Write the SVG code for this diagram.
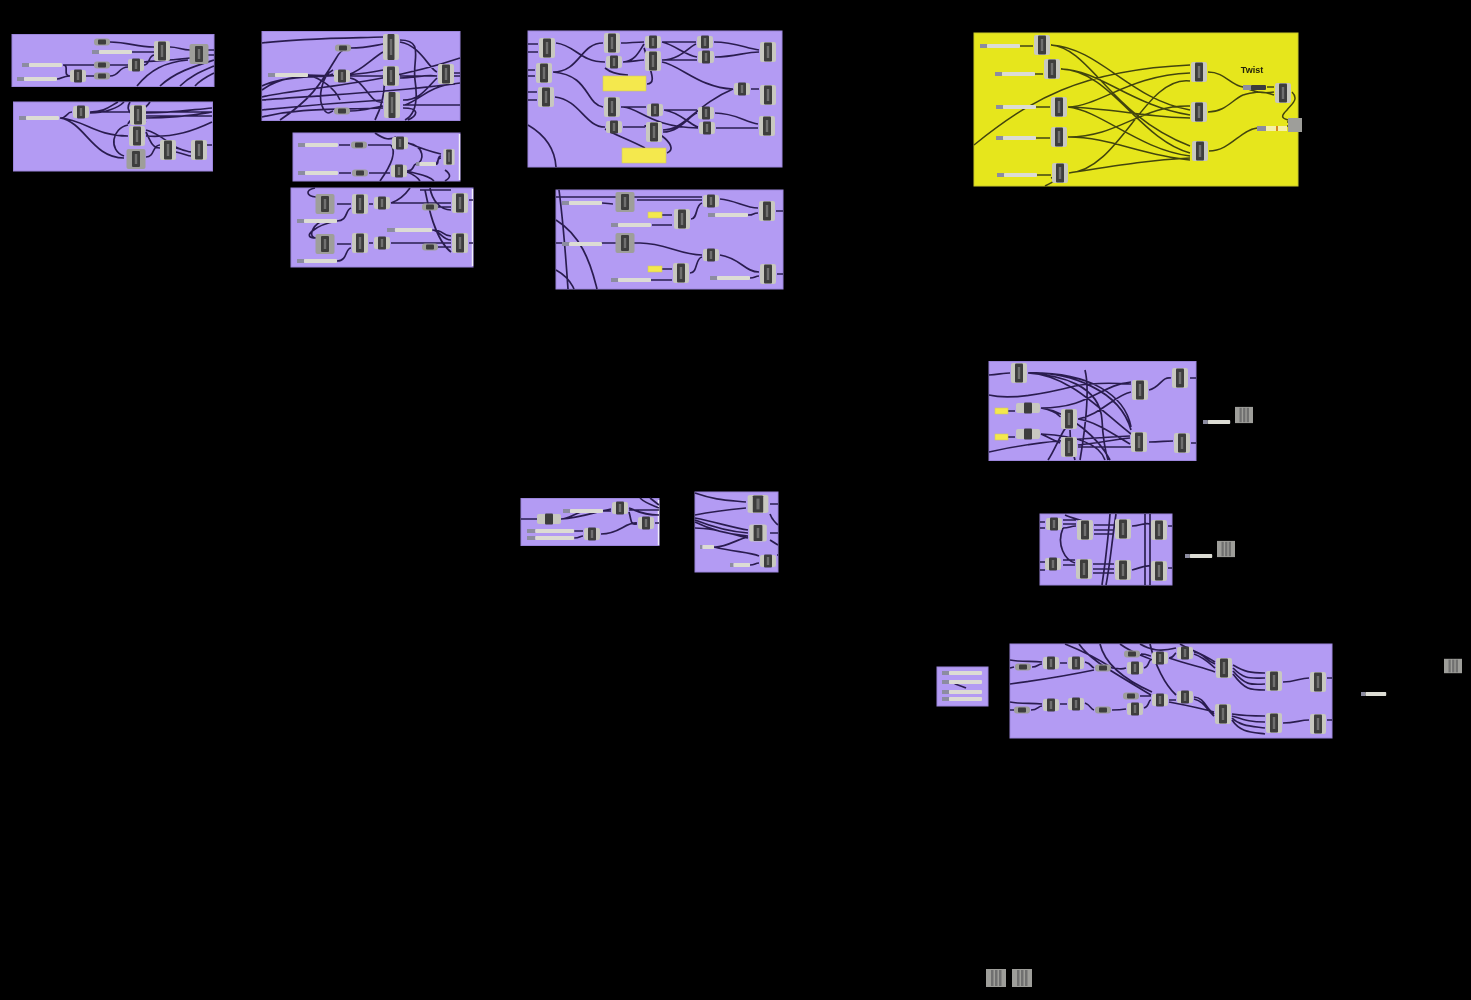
<svg xmlns="http://www.w3.org/2000/svg" width="1471" height="1000" viewBox="0 0 1471 1000">
<style>
.p{fill:#b39bf3;stroke:#9c86dc;stroke-width:1}
.py{fill:#e6e61c;stroke:#c9c92a;stroke-width:1}
.edge{stroke:#f2f0fa;stroke-width:1.4;fill:none}
#wires path{fill:none;stroke:#2b1e50;stroke-width:1.7}
#wires .o{stroke:#43450f;stroke-width:1.5}
.body{fill:#c8c8c0}
.gray{fill:#9e9e9a}
.core{fill:#3c3c3e}
.mid{fill:#707070}
.bar{fill:#dcdcd4}
.tag{fill:#8c8ca0}
.yb{fill:#f4e84e;stroke:#cfc860;stroke-width:.6}
text{font-family:"Liberation Sans",Arial,sans-serif;font-size:9px;font-weight:bold;fill:#23230a}
</style>
<defs>
<filter id="soft" filterUnits="userSpaceOnUse" x="0" y="0" width="1471" height="1000"><feGaussianBlur stdDeviation="0.75"/></filter>
<g id="c"><rect class="body" x="-8" y="-6" width="16" height="12" rx="2"/><rect class="core" x="-4" y="-6.500" width="8" height="13" rx="1"/><rect class="mid" x="-1.200" y="-4" width="2.400" height="8"/></g>
<g id="t"><rect class="body" x="-8" y="-10" width="16" height="20" rx="2"/><rect class="core" x="-4" y="-9.500" width="8" height="19" rx="1"/><rect class="mid" x="-1.200" y="-6" width="2.400" height="12"/></g>
<g id="h"><rect class="body" x="-8" y="-13" width="16" height="26" rx="2"/><rect class="core" x="-3.500" y="-13" width="7" height="26" rx="1"/><rect class="mid" x="-1.200" y="-8" width="2.400" height="16"/></g>
<g id="w"><rect class="gray" x="-9.500" y="-10" width="19" height="20" rx="2"/><rect class="core" x="-4" y="-8" width="8" height="16" rx="1"/><rect class="mid" x="-1.200" y="-5" width="2.400" height="10"/></g>
<g id="f"><rect class="gray" x="-8" y="-3.500" width="16" height="7" rx="3"/><rect class="core" x="-4" y="-2.500" width="8" height="5" rx="1"/></g>
<g id="v"><rect class="body" x="-12" y="-5" width="24" height="10" rx="2"/><rect class="core" x="-4" y="-5.500" width="8" height="11" rx="1"/></g>
<g id="e"><rect class="gray" x="-10" y="-9" width="20" height="18"/><rect class="mid" x="-5" y="-8" width="2.500" height="16"/><rect class="mid" x="-1" y="-8" width="2.500" height="16"/><rect class="mid" x="3" y="-8" width="2.500" height="16"/></g>
<g id="s"><rect class="tag" x="0" y="-2" width="7" height="4"/><rect class="bar" x="7" y="-2" width="33" height="4" rx="1"/></g>
</defs>
<rect width="1471" height="1000" fill="#000"/>
<g filter="url(#soft)">
<g id="panels">
<rect class="p" x="12" y="34.500" width="202" height="52"/>
<rect class="p" x="13.500" y="102" width="199" height="69"/>
<rect class="p" x="262" y="31.500" width="198" height="89"/>
<rect class="p" x="293" y="133" width="167" height="48"/>
<rect class="p" x="291" y="188" width="182" height="79"/>
<rect class="p" x="528" y="31" width="254" height="136"/>
<rect class="p" x="556" y="190" width="227" height="99"/>
<rect class="py" x="974" y="33" width="324" height="153"/>
<rect class="p" x="989" y="361.500" width="207" height="99"/>
<rect class="p" x="1040" y="514" width="132" height="71"/>
<rect class="p" x="1010" y="644" width="322" height="94"/>
<rect class="p" x="937" y="667" width="51" height="39"/>
<rect class="p" x="521" y="498.500" width="138" height="47"/>
<rect class="p" x="695" y="492" width="83" height="80"/>
<path class="edge" d="M459.500 134V180M472.500 189V266M658.500 500V545"/>
</g>
<g id="wires">
<path d="M110 42C130 42 135 47 154 47M132 52H154M63 65H94M110 65H128M57 79C62 79 62 76 70 76M63 65C70 65 62 76 70 76M86 76H95M110 76C120 76 118 67 128 67M144 65C150 65 148 56 154 55M170 47C178 47 182 50 190 50M144 62C165 60 175 60 190 58M137 86C150 70 165 62 188 60M160 86C175 72 195 66 214 60M180 86C190 76 200 72 214 66M195 86C200 80 208 76 214 73M207 50H214M208 55H214"/>
<path d="M60 118C68 118 66 112 72 112M60 118C85 120 95 136 128 136M60 118C85 122 92 158 124 158M90 112C105 112 110 106 118 102M90 112H212M90 113C105 113 118 108 124 102M146 113C170 113 190 110 212 108M146 116H212M146 118C180 118 200 114 212 112M128 125C112 128 108 150 124 156M146 136C175 138 195 130 212 122M146 130C165 135 172 150 191 152M146 132C150 140 152 148 160 148M146 157C155 157 152 145 160 145M176 148C185 150 188 152 191 152M176 152C185 154 188 156 191 156M207 145H212M130 102C125 110 130 115 146 122M150 102C145 110 130 118 128 124"/>
<path d="M262 43C300 38 350 38 383 37M308 75C320 75 325 76 333 76M350 48C365 48 372 46 383 44M262 90C290 70 320 80 333 74M262 86C290 72 340 80 383 70M262 97C300 88 380 85 460 58M262 100C320 95 400 92 460 83M262 110C300 106 350 102 383 100M262 117C300 108 330 110 383 108M280 120C310 100 320 85 335 60C340 50 345 48 350 48M350 111C365 111 370 108 383 106M350 76H383M350 78C365 80 370 105 383 102M350 74C362 70 370 60 383 52M333 70C322 75 316 100 325 111C328 115 330 112 333 111M308 75C320 78 335 88 340 100M400 40C425 40 412 60 415 80C418 100 415 115 405 120M400 76H437M400 78C415 78 425 74 437 76M400 42C420 45 430 70 437 72M403 100C420 100 425 90 437 78M403 105H460M403 108C420 108 418 115 408 120M454 73H460M454 76H460M405 105C420 100 430 85 455 84M375 120C385 100 385 85 384 75"/>
<path d="M339 145H350M339 173H351M368 145H391M369 173H390M375 133C385 140 390 140 396 137M408 143C425 146 425 162 416 164M408 143C420 148 432 152 441 154M407 171C415 171 412 165 416 164M435 164C440 162 436 158 441 158M435 164C440 166 436 156 441 156M380 181C395 160 395 150 391 145M407 171C420 175 428 175 434 181M407 172C415 175 418 178 420 181M445 170C452 175 450 178 445 181"/>
<path d="M337 204H351M337 221C348 221 345 210 351 208M316 197C306 196 305 190 315 188M369 204H373M391 203H451M391 203C400 200 405 195 410 188M438 207H451M316 238C300 238 315 225 337 221M337 244H351M337 261C348 261 345 248 351 248M391 243H451M438 247H451M369 243H373M316 238C308 237 312 227 320 222M432 230C445 230 440 235 451 236M425 190C428 205 435 240 451 252M430 188C432 200 440 210 451 210M432 230C440 230 442 240 451 240M420 190H451M469 200H473M469 243H473"/>
<path d="M528 44H538M528 52H538M528 70H535M528 76H535M528 92H537M528 100H537M556 43C575 45 580 62 605 62M553 72C580 72 580 43 603 43M553 72C590 75 585 104 603 107M555 97C580 100 585 127 605 127M621 43C630 43 635 42 644 42M623 62C635 62 640 50 644 44M623 62C632 62 638 60 644 60M605 68C610 72 615 74 628 75M662 42H696M662 60C680 60 690 46 696 44M662 42C675 45 685 55 697 57M662 60H697M714 42C735 42 745 48 759 50M715 57C735 57 745 52 759 52M662 62C680 65 700 88 733 89M751 89H759M647 84C655 84 652 75 650 68C647 58 645 50 644 48M621 107H646M623 127H645M623 107C640 108 650 127 698 128M664 110H697M664 110C680 112 690 125 698 127M663 132C680 132 690 115 697 113M663 130C685 130 695 105 733 89M715 113C735 113 745 122 758 124M716 128C735 128 745 128 758 128M605 129C615 135 630 140 645 148M667 153C675 150 670 142 662 136C658 133 645 128 645 125M528 125C545 135 555 150 556 167"/>
<path d="M556 197H702M602 203C608 203 608 204 613 204M556 243H613M637 200H702M720 199C735 200 745 208 758 208M748 215C755 215 752 213 758 213M662 215H672M652 225H672M691 219C698 219 695 205 702 203M556 243H640C665 243 680 255 702 255M720 255C740 258 745 272 759 272M750 278C755 278 755 276 759 276M662 269H672M651 280H672M690 273C698 273 695 258 702 257M776 211H783M777 274H783M559 190C563 220 566 260 568 289M556 220C580 235 590 260 597 289M556 270C565 275 570 280 574 289"/>
<path class="o" d="M1020 46H1033M1035 74H1043M1036 107H1050M1036 138H1050M1037 175H1051M1051 45C1090 48 1110 115 1190 146M1051 45C1100 48 1130 100 1190 110M1061 69C1100 70 1130 105 1190 115M1061 69C1110 70 1140 140 1190 153M1068 107C1100 106 1130 75 1190 73M1068 107C1110 108 1150 118 1190 118M1068 107C1100 110 1140 150 1190 156M1068 137C1120 137 1140 105 1190 106M1068 137C1110 137 1140 155 1190 160M1069 173C1120 170 1145 75 1190 81M1069 173C1120 165 1150 160 1190 158M974 145C1030 100 1080 70 1190 65M1045 186C1065 176 1070 172 1051 178M1208 72C1225 72 1230 85 1243 87M1208 112C1225 112 1232 100 1243 95C1255 92 1260 90 1274 95M1209 151C1230 151 1240 130 1257 128M1243 87C1255 92 1262 94 1274 92M1267 87H1274M1287 126H1288M1292 92C1300 100 1290 105 1287 110C1282 115 1280 118 1288 120M1287 122H1290"/>
<path d="M989 375C1000 374 1005 373 1010 373M1008 411H1015M1008 437H1015M1028 373C1070 375 1100 410 1131 434M1028 373C1060 375 1100 385 1102 420C1103 440 1105 450 1108 460M1028 373C1070 372 1120 390 1131 430M1028 373C1090 372 1125 395 1131 427M1041 408C1090 408 1100 385 1131 382M1041 408C1060 412 1060 418 1060 416M1041 408C1070 412 1100 440 1110 460M1041 434C1050 438 1055 441 1060 443M1041 434C1080 436 1100 445 1105 460M1078 419C1100 415 1115 395 1131 392M1078 447H1131M1078 445C1100 443 1110 440 1130 438M1078 419C1095 421 1115 435 1130 444M989 395C1010 400 1040 395 1075 386C1095 382 1115 383 1131 384M989 452C1020 445 1050 440 1130 436M1048 460C1055 450 1062 430 1068 425M1075 460C1072 450 1070 440 1070 430M1085 370C1090 390 1085 430 1080 460M1149 390C1160 388 1162 376 1171 378M1149 442C1160 442 1165 441 1173 441M1190 378H1196M1191 443H1196"/>
<path d="M1040 522H1045M1040 528H1045M1040 562H1045M1040 570H1045M1063 520H1076M1063 524H1076M1063 528C1070 528 1070 526 1076 526M1094 525H1114M1094 530H1114M1094 534H1114M1063 528C1056 545 1065 560 1075 563M1063 560H1075M1063 565H1075M1093 564H1114M1093 569H1114M1093 573H1114M1132 526C1140 526 1145 522 1150 524M1132 570C1140 568 1145 565 1150 566M1168 526H1172M1168 568H1172M1110 514C1108 540 1105 565 1102 585M1116 514C1112 540 1110 565 1106 585M1145 514V585M1150 514V585M1065 515C1072 518 1080 520 1085 522"/>
<path d="M1010 660C1020 662 1030 661 1042 662M1010 668L1014 667M1032 667C1038 667 1038 664 1042 664M1060 663H1067M1085 662C1092 664 1090 666 1094 668M1010 684C1040 680 1070 675 1094 670M1112 668C1118 668 1120 670 1126 668M1144 668C1150 666 1148 660 1151 660M1141 654C1148 654 1148 656 1151 656M1112 668C1100 660 1085 652 1065 644M1169 658C1174 658 1174 654 1176 653M1169 658C1190 665 1205 668 1215 672M1194 652C1205 654 1205 660 1215 664M1194 654C1205 658 1210 664 1215 668M1233 665C1245 672 1250 673 1265 673M1233 668C1245 680 1250 678 1265 678M1233 671C1245 685 1250 685 1265 684M1233 674C1245 690 1250 690 1265 690M1283 682C1295 682 1300 678 1309 678M1327 678H1332M1140 644C1150 650 1160 652 1176 648M1120 644C1135 655 1150 658 1152 660M1180 644C1190 650 1200 652 1215 662M1100 644C1105 665 1125 680 1152 692M1079 644C1090 660 1110 670 1151 695M1150 644C1155 665 1165 685 1176 695M1010 702C1020 704 1030 703 1042 704M1010 710H1014M1031 710C1038 710 1038 706 1042 706M1060 704H1067M1085 703C1092 706 1090 709 1094 710M1112 710C1118 710 1120 710 1126 709M1144 708C1150 706 1148 700 1151 700M1140 696H1151M1169 700H1176M1169 702C1190 706 1200 708 1214 712M1194 697C1205 698 1205 708 1214 714M1194 699C1205 702 1205 708 1214 716M1232 714C1245 716 1250 716 1265 716M1232 716C1245 720 1250 722 1265 722M1232 718C1240 726 1250 726 1265 728M1232 720C1240 732 1250 732 1265 734M1283 723C1295 723 1300 720 1309 720M1327 720H1332"/>
<path d="M952 682C958 686 962 686 966 688"/>
<path d="M521 519H537M561 519C570 519 575 512 587 511M603 511H611M561 519C580 518 595 512 611 509M629 508C636 510 640 515 659 515M629 510H659M629 512C632 522 630 525 637 524M574 531H583M574 538C580 538 580 536 583 536M601 534C620 534 625 522 637 523M655 523H659M640 498C645 503 652 505 659 508M650 498L659 505"/>
<path d="M695 493C715 500 725 500 746 502M695 515C710 512 725 510 746 508M695 518C715 522 735 528 748 530M695 520C715 528 735 532 748 533M695 522C715 532 735 535 748 536M695 528C715 528 735 535 748 538M714 547C725 548 740 538 748 537M714 547C735 552 750 552 759 556M750 565C755 565 755 563 759 563M770 504H778M770 514C772 520 775 522 778 525M770 533H778M770 540L778 545M777 555H778"/>
</g>
<g id="n1" transform="translate(102,42)"><use href="#f"/></g>
<g id="n2" transform="translate(92,52)"><use href="#s"/></g>
<g id="n3" transform="translate(162,51)"><use href="#t"/></g>
<g id="n4" transform="translate(199,54)"><use href="#w"/></g>
<g id="n5" transform="translate(22,65)"><use href="#s"/></g>
<g id="n6" transform="translate(17,79)"><use href="#s"/></g>
<g id="n7" transform="translate(102,65)"><use href="#f"/></g>
<g id="n8" transform="translate(102,76)"><use href="#f"/></g>
<g id="n9" transform="translate(78,76)"><use href="#c"/></g>
<g id="n10" transform="translate(136,65)"><use href="#c"/></g>
<g id="n11" transform="translate(19,118)"><use href="#s"/></g>
<g id="n12" transform="translate(81,112)"><use href="#c"/></g>
<g id="n13" transform="translate(138,115)"><use href="#t"/></g>
<g id="n14" transform="translate(137,136)"><use href="#t"/></g>
<g id="n15" transform="translate(136,159)"><use href="#w"/></g>
<g id="n16" transform="translate(168,150)"><use href="#t"/></g>
<g id="n17" transform="translate(199,150)"><use href="#t"/></g>
<g id="n18" transform="translate(268,75)"><use href="#s"/></g>
<g id="n19" transform="translate(343,48)"><use href="#f"/></g>
<g id="n20" transform="translate(342,76)"><use href="#c"/></g>
<g id="n21" transform="translate(342,111)"><use href="#f"/></g>
<g id="n22" transform="translate(391,47)"><use href="#h"/></g>
<g id="n23" transform="translate(391,76)"><use href="#t"/></g>
<g id="n24" transform="translate(392,105)"><use href="#h"/></g>
<g id="n25" transform="translate(446,74)"><use href="#t"/></g>
<g id="n26" transform="translate(298,145)"><use href="#s"/></g>
<g id="n27" transform="translate(298,173)"><use href="#s"/></g>
<g id="n28" transform="translate(359,145)"><use href="#f"/></g>
<g id="n29" transform="translate(360,173)"><use href="#f"/></g>
<g id="n30" transform="translate(400,143)"><use href="#c"/></g>
<g id="n31" transform="translate(399,171)"><use href="#c"/></g>
<g id="n32" transform="translate(416,164) scale(.5,1)"><use href="#s"/></g>
<g id="n33" transform="translate(449,157) scale(.7,.8)"><use href="#t"/></g>
<g id="n34" transform="translate(325,204)"><use href="#w"/></g>
<g id="n35" transform="translate(360,204)"><use href="#t"/></g>
<g id="n36" transform="translate(382,203)"><use href="#c"/></g>
<g id="n37" transform="translate(430,207)"><use href="#f"/></g>
<g id="n38" transform="translate(460,203)"><use href="#t"/></g>
<g id="n39" transform="translate(297,221)"><use href="#s"/></g>
<g id="n40" transform="translate(325,244)"><use href="#w"/></g>
<g id="n41" transform="translate(360,243)"><use href="#t"/></g>
<g id="n42" transform="translate(382,243)"><use href="#c"/></g>
<g id="n43" transform="translate(430,247)"><use href="#f"/></g>
<g id="n44" transform="translate(460,243)"><use href="#t"/></g>
<g id="n45" transform="translate(387,230) scale(1.130,1)"><use href="#s"/></g>
<g id="n46" transform="translate(297,261)"><use href="#s"/></g>
<g id="n47" transform="translate(547,48)"><use href="#t"/></g>
<g id="n48" transform="translate(544,73)"><use href="#t"/></g>
<g id="n49" transform="translate(546,97)"><use href="#t"/></g>
<g id="n50" transform="translate(612,43)"><use href="#t"/></g>
<g id="n51" transform="translate(614,62)"><use href="#c"/></g>
<g id="n52" transform="translate(653,42)"><use href="#c"/></g>
<g id="n53" transform="translate(653,61)"><use href="#t"/></g>
<g id="n54" transform="translate(705,42)"><use href="#c"/></g>
<g id="n55" transform="translate(706,57)"><use href="#c"/></g>
<g id="n56" transform="translate(768,52)"><use href="#t"/></g>
<g id="n57"><rect class="yb" x="603" y="76" width="43" height="15"/></g>
<g id="n58" transform="translate(742,89)"><use href="#c"/></g>
<g id="n59" transform="translate(768,95)"><use href="#t"/></g>
<g id="n60" transform="translate(612,107)"><use href="#t"/></g>
<g id="n61" transform="translate(614,127)"><use href="#c"/></g>
<g id="n62" transform="translate(655,110)"><use href="#c"/></g>
<g id="n63" transform="translate(654,132)"><use href="#t"/></g>
<g id="n64" transform="translate(706,113)"><use href="#c"/></g>
<g id="n65" transform="translate(707,128)"><use href="#c"/></g>
<g id="n66" transform="translate(767,126)"><use href="#t"/></g>
<g id="n67"><rect class="yb" x="622" y="148" width="44" height="15"/></g>
<g id="n68" transform="translate(562,203)"><use href="#s"/></g>
<g id="n69" transform="translate(625,202)"><use href="#w"/></g>
<g id="n70" transform="translate(711,201)"><use href="#c"/></g>
<g id="n71" transform="translate(708,215)"><use href="#s"/></g>
<g id="n72" transform="translate(767,211)"><use href="#t"/></g>
<g id="n73"><rect class="yb" x="648" y="212" width="14" height="6"/></g>
<g id="n74" transform="translate(682,219)"><use href="#t"/></g>
<g id="n75" transform="translate(611,225)"><use href="#s"/></g>
<g id="n76" transform="translate(562,244)"><use href="#s"/></g>
<g id="n77" transform="translate(625,243)"><use href="#w"/></g>
<g id="n78" transform="translate(711,255)"><use href="#c"/></g>
<g id="n79" transform="translate(768,274)"><use href="#t"/></g>
<g id="n80" transform="translate(710,278)"><use href="#s"/></g>
<g id="n81"><rect class="yb" x="648" y="266" width="14" height="6"/></g>
<g id="n82" transform="translate(681,273)"><use href="#t"/></g>
<g id="n83" transform="translate(611,280)"><use href="#s"/></g>
<g id="n84" transform="translate(980,46)"><use href="#s"/></g>
<g id="n85" transform="translate(1042,45)"><use href="#t"/></g>
<g id="n86" transform="translate(995,74)"><use href="#s"/></g>
<g id="n87" transform="translate(1052,69)"><use href="#t"/></g>
<g id="n88" transform="translate(996,107)"><use href="#s"/></g>
<g id="n89" transform="translate(1059,107)"><use href="#t"/></g>
<g id="n90" transform="translate(996,138)"><use href="#s"/></g>
<g id="n91" transform="translate(1059,137)"><use href="#t"/></g>
<g id="n92" transform="translate(997,175)"><use href="#s"/></g>
<g id="n93" transform="translate(1060,173)"><use href="#t"/></g>
<g id="n94" transform="translate(1199,72)"><use href="#t"/></g>
<g id="n95" transform="translate(1199,112)"><use href="#t"/></g>
<g id="n96" transform="translate(1200,151)"><use href="#t"/></g>
<g id="n97"><text x="1252" y="73" text-anchor="middle">Twist</text></g>
<g id="n98"><rect class="tag" x="1243" y="85" width="8" height="5"/><rect class="core" x="1251" y="85" width="15" height="5" rx="1"/></g>
<g id="n99" transform="translate(1283,93)"><use href="#t"/></g>
<g id="n100"><rect class="tag" x="1257" y="126" width="9" height="5"/><rect fill="#f6f0a8" x="1266" y="126" width="21" height="5"/><rect fill="#d88a20" x="1276" y="126" width="2" height="5"/></g>
<g id="n101"><rect class="gray" x="1288" y="118" width="14" height="14"/></g>
<g id="n102" transform="translate(1019,373)"><use href="#t"/></g>
<g id="n103"><rect class="yb" x="995" y="408" width="13" height="6"/></g>
<g id="n104" transform="translate(1028,408)"><use href="#v"/></g>
<g id="n105"><rect class="yb" x="995" y="434" width="13" height="6"/></g>
<g id="n106" transform="translate(1028,434)"><use href="#v"/></g>
<g id="n107" transform="translate(1069,419)"><use href="#t"/></g>
<g id="n108" transform="translate(1069,447)"><use href="#t"/></g>
<g id="n109" transform="translate(1140,390)"><use href="#t"/></g>
<g id="n110" transform="translate(1139,442)"><use href="#t"/></g>
<g id="n111" transform="translate(1180,378)"><use href="#t"/></g>
<g id="n112" transform="translate(1182,443)"><use href="#t"/></g>
<g id="n113" transform="translate(1203,422) scale(.68,1)"><use href="#s"/></g>
<g id="n114" transform="translate(1244,415) scale(.9)"><use href="#e"/></g>
<g id="n115" transform="translate(1054,524)"><use href="#c"/></g>
<g id="n116" transform="translate(1085,530)"><use href="#t"/></g>
<g id="n117" transform="translate(1123,529)"><use href="#t"/></g>
<g id="n118" transform="translate(1159,530)"><use href="#t"/></g>
<g id="n119" transform="translate(1053,564)"><use href="#c"/></g>
<g id="n120" transform="translate(1084,569)"><use href="#t"/></g>
<g id="n121" transform="translate(1123,570)"><use href="#t"/></g>
<g id="n122" transform="translate(1159,571)"><use href="#t"/></g>
<g id="n123" transform="translate(1185,556) scale(.68,1)"><use href="#s"/></g>
<g id="n124" transform="translate(1226,549) scale(.9)"><use href="#e"/></g>
<g id="n125" transform="translate(1023,667)"><use href="#f"/></g>
<g id="n126" transform="translate(1051,663)"><use href="#c"/></g>
<g id="n127" transform="translate(1076,663)"><use href="#c"/></g>
<g id="n128" transform="translate(1103,668)"><use href="#f"/></g>
<g id="n129" transform="translate(1132,654)"><use href="#f"/></g>
<g id="n130" transform="translate(1135,668)"><use href="#c"/></g>
<g id="n131" transform="translate(1160,658)"><use href="#c"/></g>
<g id="n132" transform="translate(1185,653)"><use href="#c"/></g>
<g id="n133" transform="translate(1224,668)"><use href="#t"/></g>
<g id="n134" transform="translate(1274,681)"><use href="#t"/></g>
<g id="n135" transform="translate(1318,682)"><use href="#t"/></g>
<g id="n136" transform="translate(1022,710)"><use href="#f"/></g>
<g id="n137" transform="translate(1051,705)"><use href="#c"/></g>
<g id="n138" transform="translate(1076,704)"><use href="#c"/></g>
<g id="n139" transform="translate(1103,710)"><use href="#f"/></g>
<g id="n140" transform="translate(1131,696)"><use href="#f"/></g>
<g id="n141" transform="translate(1135,709)"><use href="#c"/></g>
<g id="n142" transform="translate(1160,700)"><use href="#c"/></g>
<g id="n143" transform="translate(1185,697)"><use href="#c"/></g>
<g id="n144" transform="translate(1223,714)"><use href="#t"/></g>
<g id="n145" transform="translate(1274,723)"><use href="#t"/></g>
<g id="n146" transform="translate(1318,724)"><use href="#t"/></g>
<g id="n147" transform="translate(1361,694) scale(.63,1)"><use href="#s"/></g>
<g id="n148" transform="translate(1453,666) scale(.9,.8)"><use href="#e"/></g>
<g id="n149" transform="translate(942,673)"><use href="#s"/></g>
<g id="n150" transform="translate(942,682)"><use href="#s"/></g>
<g id="n151" transform="translate(942,692)"><use href="#s"/></g>
<g id="n152" transform="translate(942,699)"><use href="#s"/></g>
<g id="n153" transform="translate(549,519)"><use href="#v"/></g>
<g id="n154" transform="translate(563,511)"><use href="#s"/></g>
<g id="n155" transform="translate(620,508)"><use href="#c"/></g>
<g id="n156" transform="translate(646,523)"><use href="#c"/></g>
<g id="n157" transform="translate(527,531) scale(1.180,1)"><use href="#s"/></g>
<g id="n158" transform="translate(527,538) scale(1.180,1)"><use href="#s"/></g>
<g id="n159" transform="translate(592,534)"><use href="#c"/></g>
<g id="n160" transform="translate(758,504) scale(1.300,.9)"><use href="#t"/></g>
<g id="n161" transform="translate(758,533) scale(1.100,.85)"><use href="#t"/></g>
<g id="n162" transform="translate(700,547) scale(.35,1)"><use href="#s"/></g>
<g id="n163" transform="translate(730,565) scale(.5,1)"><use href="#s"/></g>
<g id="n164" transform="translate(768,561)"><use href="#c"/></g>
<g id="n165" transform="translate(996,978)"><use href="#e"/></g>
<g id="n166" transform="translate(1022,978)"><use href="#e"/></g>
</g>
</svg>
